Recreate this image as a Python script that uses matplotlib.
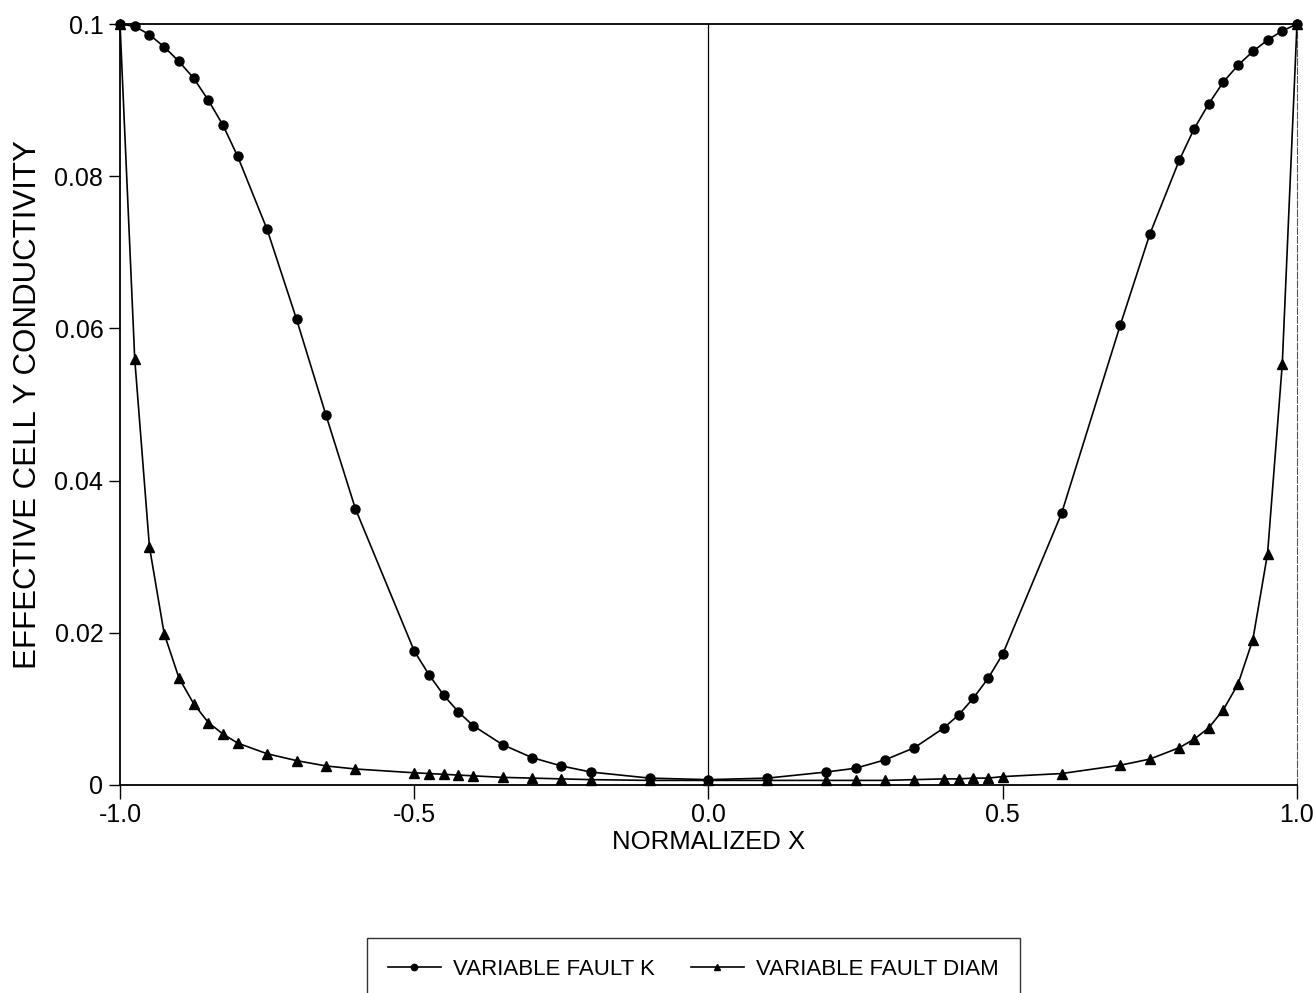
import numpy as np
import matplotlib
matplotlib.use("Agg")
import matplotlib.pyplot as plt

plt.rcParams['font.family'] = ['Liberation Sans', 'DejaVu Sans']

# normalized x positions (shared by both series)
x_vals = [-1.0, -0.975, -0.95, -0.925, -0.9, -0.875, -0.85, -0.825, -0.8,
          -0.75, -0.7, -0.65, -0.6, -0.5, -0.475, -0.45, -0.425, -0.4,
          -0.35, -0.3, -0.25, -0.2, -0.1, 0.0,
          0.1, 0.2, 0.25, 0.3, 0.35, 0.4, 0.425, 0.45, 0.475, 0.5,
          0.6, 0.7, 0.75, 0.8, 0.825, 0.85, 0.875, 0.9, 0.925, 0.95, 0.975, 1.0]

fault_k = [0.1, 0.0997, 0.0986, 0.0970, 0.0951, 0.0929, 0.0900, 0.0867, 0.0826,
           0.0730, 0.0612, 0.0486, 0.0363, 0.0176, 0.0145, 0.0118, 0.0096, 0.0078,
           0.0053, 0.0036, 0.0025, 0.0017, 0.0009, 0.0007,
           0.0009, 0.0017, 0.0022, 0.0033, 0.0049, 0.0075, 0.0092, 0.0114, 0.0140, 0.0172,
           0.0357, 0.0605, 0.0724, 0.0821, 0.0862, 0.0895, 0.0924, 0.0946, 0.0964, 0.0979, 0.0991, 0.1]

fault_diam = [0.1, 0.0560, 0.0313, 0.0199, 0.0141, 0.0107, 0.0082, 0.0067, 0.0055,
              0.0041, 0.0032, 0.0025, 0.0021, 0.0016, 0.0015, 0.0014, 0.0013, 0.0012,
              0.0010, 0.0009, 0.0008, 0.0007, 0.0006, 0.0006,
              0.0006, 0.0006, 0.0006, 0.0006, 0.0007, 0.0008, 0.0008, 0.0009, 0.0009, 0.0011,
              0.0015, 0.0026, 0.0034, 0.0049, 0.0060, 0.0075, 0.0099, 0.0133, 0.0191, 0.0304, 0.0553, 0.1]

x_ticks = [-1.0, -0.5, 0.0, 0.5, 1.0]
x_labels = ['-1.0', '-0.5', '0.0', '0.5', '1.0']
y_ticks = [0, 0.02, 0.04, 0.06, 0.08, 0.1]
y_labels = ['0', '0.02', '0.04', '0.06', '0.08', '0.1']

fig = plt.figure(figsize=(13.13, 9.93), dpi=100)
ax = fig.add_axes([0.0914, 0.2095, 0.8964, 0.7663])

ax.axvline(0, color='black', lw=0.9, zorder=1)

ax.plot(x_vals, fault_k, color='black', lw=1.2, marker='o', markersize=6.5,
        label='VARIABLE FAULT K', clip_on=False, zorder=3)
ax.plot(x_vals, fault_diam, color='black', lw=1.2, marker='^', markersize=6.5,
        label='VARIABLE FAULT DIAM', clip_on=False, zorder=3)

ax.set_xlim(-1.0, 1.0)
ax.set_ylim(0, 0.1)
ax.set_xticks(x_ticks)
ax.set_xticklabels(x_labels)
ax.set_yticks(y_ticks)
ax.set_yticklabels(y_labels)
ax.tick_params(axis='x', direction='out', length=10, width=1, pad=3, labelsize=18)
ax.tick_params(axis='y', direction='out', length=8, width=1, pad=4, labelsize=18)

for side in ['left', 'bottom', 'top']:
    ax.spines[side].set_linewidth(1.3)
ax.spines['right'].set_linewidth(0.8)
ax.spines['right'].set_color('#555555')
ax.spines['right'].set_linestyle((0, (6, 2)))

ax.set_xlabel('NORMALIZED X', fontsize=18.5, labelpad=2)
ax.set_ylabel('EFFECTIVE CELL Y CONDUCTIVITY', fontsize=22.5, labelpad=8)

# legend box runs off the bottom edge like the original
leg = fig.legend(loc='upper center', bbox_to_anchor=(0.528, 0.0555), ncol=2,
                 fontsize=16, frameon=True, fancybox=False,
                 edgecolor='black', handlelength=2.4, handletextpad=0.55,
                 columnspacing=1.6, borderpad=0.95, borderaxespad=0, markerscale=0.7)
leg.get_frame().set_linewidth(1.0)

fig.savefig('out.png', dpi=100)
